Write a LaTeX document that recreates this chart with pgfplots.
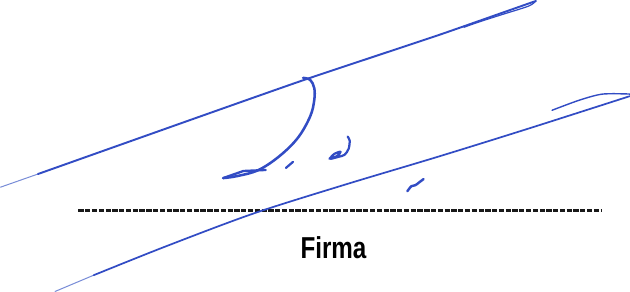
\documentclass[border=0pt]{standalone}
\usepackage{pgfplots}
\pgfplotsset{compat=1.18}
\usepackage{fontspec}
\setmainfont{Liberation Sans}
\definecolor{ink}{RGB}{50,76,196}
\definecolor{inklight}{RGB}{120,140,215}
\definecolor{dashcol}{RGB}{25,25,25}
\begin{document}
\begin{tikzpicture}
\begin{axis}[
  scale only axis, width=630bp, height=297bp,
  xmin=0, xmax=630, ymin=0, ymax=297, y dir=reverse,
  hide axis, clip=true,
  every axis plot/.append style={line cap=round, line join=round},
]
% dashed line
\addplot[color=dashcol, line width=3.4bp, dash pattern=on 5.2bp off 1.5bp, line cap=butt] coordinates {(85,217) (601,217)};
% upper long stroke
\addplot[inklight, line width=1.0bp] coordinates {(8,194) (45,181)};
\addplot[ink, line width=1.9bp, smooth, tension=0.3] coordinates {
 (45,181) (200,126) (308,88) (440,44) (500,23) (537,10)};
\addplot[ink, line width=1.2bp, smooth, tension=0.5] coordinates {
 (537,10) (530,15) (505,23) (480,31) (466,36)};
% hook stroke
\addplot[ink, line width=2.5bp, smooth, tension=0.6] coordinates {
 (307,86) (314,88) (318,96) (318,108) (314,124) (302,145) (284,163) (263,177) (242,183) (228,185)};
\addplot[ink, line width=2.3bp] coordinates {(228,185) (248,178) (270,177)};
% small tick
\addplot[ink, line width=2.2bp] coordinates {(290,175) (297,169)};
% d-like mark
\addplot[ink, line width=2.2bp, smooth, tension=0.5] coordinates {
 (333,166) (338,161) (344,159) (341,163) (334,166) (342,164) (348,162) (352,156) (353,148) (351,144)};
% small mark bottom
\addplot[ink, line width=2.4bp, smooth] coordinates {(410,198) (414,193) (418,192) (422,189) (426,186)};
% lower long stroke
\addplot[inklight, line width=1.0bp] coordinates {(62,297) (100,281)};
\addplot[ink, line width=1.7bp, smooth, tension=0.5] coordinates {
 (100,281) (170,253) (258,220) (350,191) (440,164) (530,136) (630,104)};
\addplot[ink, line width=1.4bp, smooth, tension=0.5] coordinates {
 (630,102) (603,102) (580,108) (553,118)};
\node[font=\bfseries] at (axis cs:337,254) {\fontsize{30}{31}\selectfont\scalebox{0.8}[1]{Firma}};
\end{axis}
\end{tikzpicture}
\end{document}
